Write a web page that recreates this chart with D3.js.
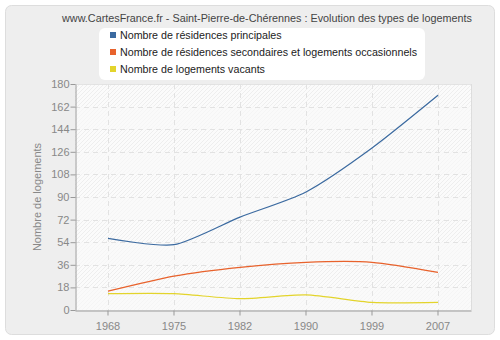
<!DOCTYPE html>
<html><head><meta charset="utf-8">
<script src="https://cdn.jsdelivr.net/npm/d3@7"></script>
<style>body{margin:0;background:#fff}svg{display:block}text{font-family:"Liberation Sans",Arial,sans-serif}</style>
</head><body>
<svg id="c" width="500" height="340"></svg>
<script>
const years = ["1968","1975","1982","1990","1999","2007"];
const principales = [57, 52, 74, 94, 129, 171];
const secondaires = [15, 27, 34, 38, 38, 30];
const vacants = [13, 13, 9, 12, 6, 6];
const yTicks = [0,18,36,54,72,90,108,126,144,162,180];
const seriesNames = ["Nombre de résidences principales","Nombre de résidences secondaires et logements occasionnels","Nombre de logements vacants"];
const seriesColors = ["#3b6aa0","#e8622c","#e3d42c"];
const title = "www.CartesFrance.fr - Saint-Pierre-de-Chérennes : Evolution des types de logements";
const yLabel = "Nombre de logements";
const FONT = "Liberation Sans, Arial, sans-serif";

const svg = d3.select("#c");
const defs = svg.append("defs");
const pat = defs.append("pattern").attr("id","hatch").attr("patternUnits","userSpaceOnUse")
  .attr("width",4).attr("height",4);
pat.append("rect").attr("width",4).attr("height",4).attr("fill","#fbfbfb");
pat.append("path").attr("d","M-1,1 l2,-2 M0,4 l4,-4 M3,5 l2,-2").attr("stroke","#eeeeee").attr("stroke-width",1);

svg.append("rect").attr("x",5.5).attr("y",5.5).attr("width",489).attr("height",329).attr("rx",6)
  .attr("fill","#eeeeee").attr("stroke","#dddddd");

const m = {l:75, r:471, t:84, b:310};
const x = d3.scaleBand().domain(years).range([m.l, m.r]);
const y = d3.scaleLinear().domain([0,180]).range([m.b, m.t]);

svg.append("rect").attr("x",m.l).attr("y",m.t).attr("width",m.r-m.l).attr("height",m.b-m.t).attr("fill","url(#hatch)");
for (let i=0;i<yTicks.length-1;i++){
  if (i%2===0) svg.append("rect").attr("x",m.l).attr("y",y(yTicks[i+1])).attr("width",m.r-m.l)
    .attr("height",y(yTicks[i])-y(yTicks[i+1])).attr("fill","#fafafa").attr("opacity",0.6);
}
svg.append("line").attr("x1",m.r+0.5).attr("x2",m.r+0.5).attr("y1",m.t).attr("y2",m.b).attr("stroke","#dddddd");
svg.append("line").attr("x1",m.l).attr("x2",m.r).attr("y1",m.t+0.5).attr("y2",m.t+0.5).attr("stroke","#e4e4e4");

const g = svg.append("g");
g.selectAll(".hg").data(yTicks.slice(1)).join("line")
  .attr("x1",m.l).attr("x2",m.r).attr("y1",d=>Math.round(y(d))+0.5).attr("y2",d=>Math.round(y(d))+0.5)
  .attr("stroke","#e2e2e2").attr("stroke-dasharray","5,4");
g.selectAll(".vg").data(years).join("line")
  .attr("x1",d=>Math.round(x(d)+x.bandwidth()/2)+0.5).attr("x2",d=>Math.round(x(d)+x.bandwidth()/2)+0.5)
  .attr("y1",m.t).attr("y2",m.b).attr("stroke","#e2e2e2").attr("stroke-dasharray","5,4");

const ya = svg.append("g").attr("transform",`translate(${m.l+0.5},0)`)
  .call(d3.axisLeft(y).tickValues(yTicks).tickSize(5).tickSizeOuter(0));
const xa = svg.append("g").attr("transform",`translate(0,${m.b+0.5})`)
  .call(d3.axisBottom(x).tickSize(5).tickSizeOuter(0));
[ya,xa].forEach(a=>{
  a.selectAll("path").attr("stroke","#999");
  a.selectAll("line").attr("stroke","#999");
  a.selectAll("text").attr("fill","#888").attr("font-size","11px").attr("font-family",FONT);
});
ya.selectAll("text").attr("x",-6);
xa.selectAll("text").attr("dy","1.05em");

svg.append("text").attr("transform",`translate(41,${(m.t+m.b)/2}) rotate(-90)`).attr("text-anchor","middle")
  .attr("fill","#888").attr("font-size","11px").text(yLabel);

const line = d3.line().x((d,i)=>x(years[i])+x.bandwidth()/2).y(d=>y(d)).curve(d3.curveCardinal.tension(0.3));
[principales,secondaires,vacants].forEach((s,i)=>{
  svg.append("path").datum(s).attr("d",line).attr("fill","none").attr("stroke",seriesColors[i]).attr("stroke-width",1.2);
});

svg.append("text").attr("x",267).attr("y",22).attr("text-anchor","middle").attr("fill","#444").attr("font-size","10.8px").text(title);

svg.append("rect").attr("x",99).attr("y",28).attr("width",326).attr("height",52).attr("rx",6).attr("fill","#fff");
seriesNames.forEach((n,i)=>{
  svg.append("rect").attr("x",110).attr("y",32+i*17).attr("width",6).attr("height",6).attr("fill",seriesColors[i]);
  svg.append("text").attr("x",120).attr("y",39+i*17).attr("fill","#222").attr("font-size","10.7px").text(n);
});
</script>
</body></html>
